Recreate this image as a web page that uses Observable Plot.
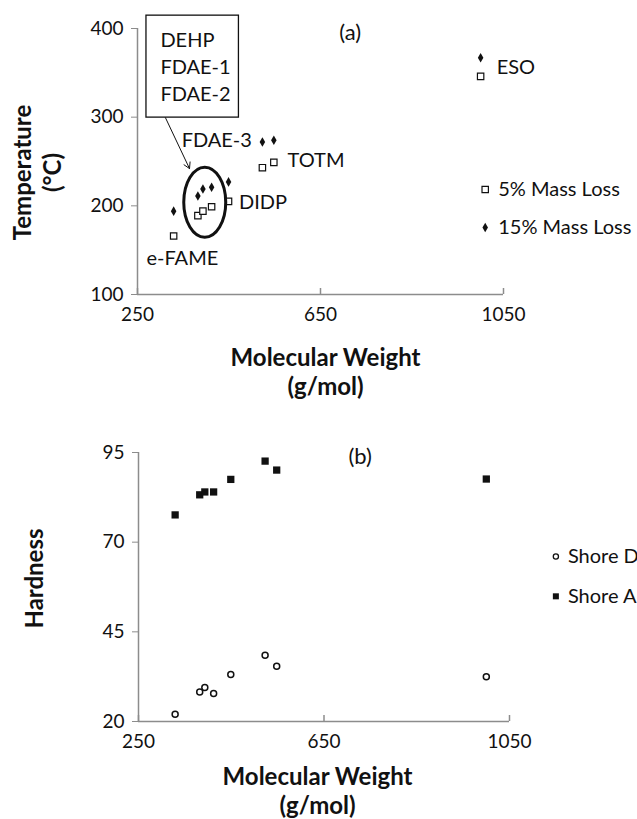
<!DOCTYPE html>
<html><head><meta charset="utf-8">
<script src="https://cdn.jsdelivr.net/npm/d3@7"></script>
<script src="https://cdn.jsdelivr.net/npm/@observablehq/plot@0.6"></script>
<style>
body{margin:0;background:#fff;}
#chart{width:637px;height:819px;overflow:hidden;position:relative}
svg{display:block}
</style>
</head><body><div id="chart"></div>
<script>
// ---- data ----
const plasticizers = ["e-FAME", "DEHP", "FDAE-1", "FDAE-2", "DIDP", "FDAE-3", "TOTM", "ESO"];
const molecularWeight = [329, 382, 393, 412, 449, 523, 548, 1000];
const temp5 = [166, 189, 194, 199, 205, 243, 249, 346];
const temp15 = [194, 211, 219, 221, 227, 272, 274, 367];
const shoreA = [77.6, 83.2, 84, 84, 87.5, 92.6, 90.1, 87.6];
const shoreD = [22, 28.2, 29.5, 27.8, 33.1, 38.5, 35.4, 32.5];
const mwTicks = [250, 650, 1050];
const tempTicks = [100, 200, 300, 400];
const hardTicks = [20, 45, 70, 95];

const rowsA = plasticizers.map((p, i) => ({p, mw: molecularWeight[i], t5: temp5[i], t15: temp15[i]}));
const rowsB = plasticizers.map((p, i) => ({p, mw: molecularWeight[i], a: shoreA[i], d: shoreD[i]}));

const fontFamily = "Lato, 'Open Sans', sans-serif";
const axisColor = "#8c8c8c";
const ink = "#111";
const fmt = d => String(d);
const tickFont = 19, labelFont = 20, titleFont = 24;

const ellipseSymbol = {
  draw(ctx) {
    const rx = 21, ry = 35, k = 0.5523;
    ctx.moveTo(rx, 0);
    ctx.bezierCurveTo(rx, k * ry, k * rx, ry, 0, ry);
    ctx.bezierCurveTo(-k * rx, ry, -rx, k * ry, -rx, 0);
    ctx.bezierCurveTo(-rx, -k * ry, -k * rx, -ry, 0, -ry);
    ctx.bezierCurveTo(k * rx, -ry, rx, -k * ry, rx, 0);
    ctx.closePath();
  }
};

const A = Plot.plot({
  width: 637, height: 400,
  marginLeft: 137, marginRight: 134, marginTop: 28, marginBottom: 106,
  style: {fontFamily, fontSize: "18px", background: "white", overflow: "visible", color: ink},
  x: {domain: [250, 1050], axis: null},
  y: {domain: [100, 400], axis: null},
  marks: [
    Plot.ruleX([250], {stroke: axisColor, strokeWidth: 1.5}),
    Plot.ruleY([100], {stroke: axisColor, strokeWidth: 1.5}),
    Plot.axisY({ticks: tempTicks, tickFormat: fmt, tickSize: 6, tickPadding: 8, stroke: axisColor, fill: ink, label: null, fontSize: tickFont}),
    Plot.axisX({ticks: mwTicks, tickFormat: fmt, tickSize: 0, tickPadding: 13, fill: ink, label: null, fontSize: tickFont}),
    Plot.tickX(mwTicks, {x: d => d, stroke: axisColor, strokeWidth: 1.5, insetTop: 260}),
    // data
    Plot.dot(rowsA, {x: "mw", y: "t5", symbol: "square", r: 3.6, stroke: ink, strokeWidth: 1.2, fill: "white"}),
    Plot.dot(rowsA, {x: "mw", y: "t15", symbol: "diamond", r: 2.9, fill: ink, stroke: "none"}),
    // annotations
    Plot.dot([{x: 397, y: 204}], {x: "x", y: "y", symbol: ellipseSymbol, stroke: ink, strokeWidth: 3, fill: "none"}),
    Plot.arrow([{x1: 311, y1: 299.5, x2: 363.7, y2: 242}], {x1: "x1", y1: "y1", x2: "x2", y2: "y2", stroke: ink, strokeWidth: 1, headLength: 10}),
    Plot.rect([{x1: 269.6, x2: 471.7, y1: 299.5, y2: 414.5}], {x1: "x1", x2: "x2", y1: "y1", y2: "y2", fill: "white", stroke: ink, strokeWidth: 1.3}),
    Plot.text(["DEHP\nFDAE-1\nFDAE-2"], {x: 300, y: 358, text: d => d, textAnchor: "start", lineAnchor: "middle", lineHeight: 1.35, fontSize: labelFont, fill: ink}),
    Plot.text(["FDAE-3"], {x: 500, y: 273.6, text: d => d, textAnchor: "end", fontSize: labelFont, fill: ink}),
    Plot.text(["TOTM"], {x: 578, y: 251, text: d => d, textAnchor: "start", fontSize: labelFont, fill: ink}),
    Plot.text(["DIDP"], {x: 471.7, y: 203.7, text: d => d, textAnchor: "start", fontSize: labelFont, fill: ink}),
    Plot.text(["e-FAME"], {x: 269.6, y: 140.6, text: d => d, textAnchor: "start", fontSize: labelFont, fill: ink}),
    Plot.text(["ESO"], {x: 1035, y: 356, text: d => d, textAnchor: "start", fontSize: labelFont, fill: ink}),
    Plot.text(["(a)"], {x: 715, y: 395, text: d => d, fontSize: 22, fill: ink}),
    // legend
    Plot.dot([{x: 1010, y: 218.4}], {x: "x", y: "y", symbol: "square", r: 3.6, stroke: ink, strokeWidth: 1.2, fill: "white"}),
    Plot.dot([{x: 1010, y: 175.5}], {x: "x", y: "y", symbol: "diamond", r: 2.9, fill: ink}),
    Plot.text(["5% Mass Loss"], {x: 1010, y: 218.4, dx: 13, text: d => d, textAnchor: "start", fontSize: labelFont, fill: ink}),
    Plot.text(["15% Mass Loss"], {x: 1010, y: 175.5, dx: 13, text: d => d, textAnchor: "start", fontSize: labelFont, fill: ink}),
    // axis titles
    Plot.text(["Temperature\n(°C)"], {frameAnchor: "left", dx: -101, dy: 11, rotate: -90, textAnchor: "middle", lineAnchor: "middle", text: d => d, fontWeight: "bold", fontSize: titleFont, lineHeight: 1.25, fill: ink}),
    Plot.text(["Molecular Weight\n(g/mol)"], {frameAnchor: "bottom", dx: 5, dy: 77, textAnchor: "middle", lineAnchor: "middle", text: d => d, fontWeight: "bold", fontSize: titleFont, lineHeight: 1.2, fill: ink})
  ]
});

const B = Plot.plot({
  width: 637, height: 419,
  marginLeft: 138, marginRight: 128, marginTop: 52, marginBottom: 98,
  style: {fontFamily, fontSize: "18px", background: "white", overflow: "visible", color: ink},
  x: {domain: [250, 1050], axis: null},
  y: {domain: [20, 95], axis: null},
  marks: [
    Plot.ruleX([250], {stroke: axisColor, strokeWidth: 1.5}),
    Plot.ruleY([20], {stroke: axisColor, strokeWidth: 1.5}),
    Plot.axisY({ticks: hardTicks, tickFormat: fmt, tickSize: 6, tickPadding: 8, stroke: axisColor, fill: ink, label: null, fontSize: tickFont}),
    Plot.axisX({ticks: mwTicks, tickFormat: fmt, tickSize: 0, tickPadding: 13, fill: ink, label: null, fontSize: tickFont}),
    Plot.tickX(mwTicks, {x: d => d, stroke: axisColor, strokeWidth: 1.5, insetTop: 263}),
    Plot.dot(rowsB, {x: "mw", y: "a", symbol: "square", r: 4.1, fill: ink, stroke: "none"}),
    Plot.dot(rowsB, {x: "mw", y: "d", symbol: "circle", r: 3, stroke: ink, strokeWidth: 1.5, fill: "white"}),
    Plot.text(["(b)"], {x: 728, y: 93.7, text: d => d, fontSize: 22, fill: ink}),
    // legend
    Plot.dot([{x: 1150, y: 66}], {x: "x", y: "y", symbol: "circle", r: 2.6, stroke: ink, strokeWidth: 1.3, fill: "white"}),
    Plot.dot([{x: 1150, y: 54.9}], {x: "x", y: "y", symbol: "square", r: 3.4, fill: ink}),
    Plot.text(["Shore D"], {x: 1150, y: 66, dx: 12, text: d => d, textAnchor: "start", fontSize: labelFont, fill: ink}),
    Plot.text(["Shore A"], {x: 1150, y: 54.9, dx: 12, text: d => d, textAnchor: "start", fontSize: labelFont, fill: ink}),
    // axis titles
    Plot.text(["Hardness"], {frameAnchor: "left", dx: -103, dy: -8.5, rotate: -90, textAnchor: "middle", lineAnchor: "middle", text: d => d, fontWeight: "bold", fontSize: titleFont, fill: ink}),
    Plot.text(["Molecular Weight\n(g/mol)"], {frameAnchor: "bottom", dx: -6.5, dy: 68.5, textAnchor: "middle", lineAnchor: "middle", text: d => d, fontWeight: "bold", fontSize: titleFont, lineHeight: 1.22, fill: ink})
  ]
});

const chart = document.getElementById("chart");
chart.appendChild(A);
chart.appendChild(B);
</script>
</body></html>
